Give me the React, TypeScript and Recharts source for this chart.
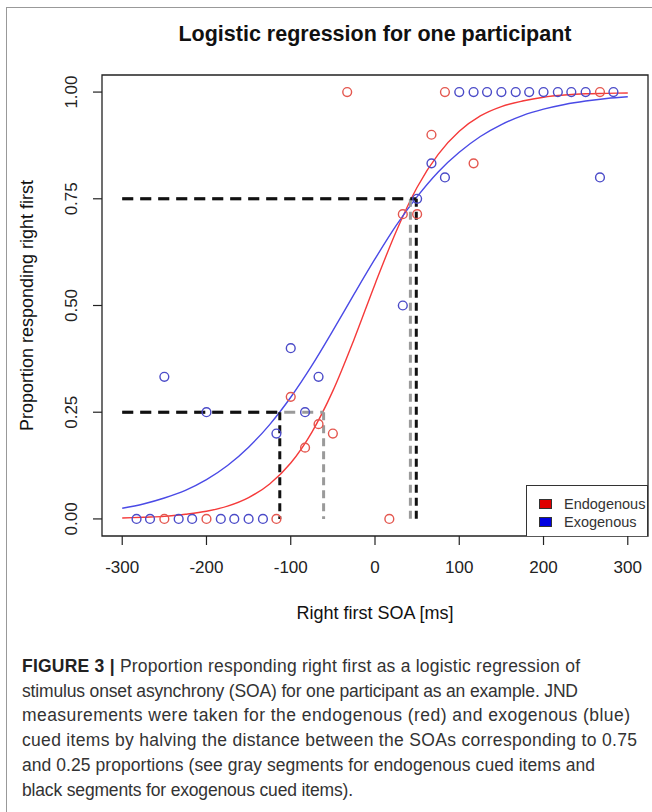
import React from 'react';
import {
  ComposedChart,
  XAxis,
  YAxis,
  Line,
  Scatter,
  ReferenceLine,
  ReferenceArea,
  Legend,
} from 'recharts';

const FONT = '"Liberation Sans", Arial, Helvetica, sans-serif';

// ---- Data ----
const xTicks = [-300, -200, -100, 0, 100, 200, 300];
const yTicks = [0, 0.25, 0.5, 0.75, 1];
const yTickLabels = ['0.00', '0.25', '0.50', '0.75', '1.00'];

// Observed proportions (Endogenous = red)
const endoSoa = [-250, -200, -117, -100, -83, -67, -50, -33, 17, 33, 50, 67, 83, 117, 267];
const endoProp = [0, 0, 0, 0.286, 0.167, 0.222, 0.2, 1, 0, 0.714, 0.714, 0.9, 1, 0.833, 1];

// Observed proportions (Exogenous = blue)
const exoSoa = [
  -283, -267, -250, -233, -217, -200, -183, -167, -150, -133, -117, -100, -83, -67,
  33, 50, 67, 83, 100, 117, 133, 150, 167, 183, 200, 217, 233, 250, 267, 283,
];
const exoProp = [
  0, 0, 0.333, 0, 0, 0.25, 0, 0, 0, 0, 0.2, 0.4, 0.25, 0.333,
  0.5, 0.75, 0.833, 0.8, 1, 1, 1, 1, 1, 1, 1, 1, 1, 1, 0.8, 1,
];

// Fitted logistic curves at these SOAs
const curveSoa = [
  -300, -275, -250, -225, -200, -175, -150, -125, -100, -75, -50, -25, 0,
  25, 50, 75, 100, 125, 150, 175, 200, 225, 250, 275, 300,
];
const endoFit = [
  0.002, 0.004, 0.006, 0.011, 0.018, 0.03, 0.05, 0.082, 0.131, 0.203, 0.3, 0.42, 0.55,
  0.673, 0.777, 0.854, 0.908, 0.944, 0.966, 0.979, 0.988, 0.993, 0.996, 0.997, 0.998,
];
const exoFit = [
  0.025, 0.035, 0.049, 0.067, 0.092, 0.125, 0.168, 0.221, 0.285, 0.359, 0.441, 0.526, 0.609,
  0.687, 0.755, 0.813, 0.859, 0.896, 0.924, 0.945, 0.96, 0.971, 0.979, 0.985, 0.989,
];

// JND reference SOAs at 0.25 and 0.75
const jndLevels = [0.25, 0.75];
const endoJnd = [-61, 42]; // gray
const exoJnd = [-113, 49]; // black
const jndStartSoa = -300;

const legendNames = ['Endogenous', 'Exogenous'];

// ---- Colors ----
const RED_PT = '#e4574f';
const BLUE_PT = '#4b4bc8';
const RED_LINE = '#f53a3a';
const BLUE_LINE = '#4a4ae6';
const GRAY_DASH = '#9a9a9a';
const BLACK_DASH = '#111111';

const endoPoints = endoSoa.map((x, i) => ({ x, y: endoProp[i] }));
const exoPoints = exoSoa.map((x, i) => ({ x, y: exoProp[i] }));
const endoCurve = curveSoa.map((x, i) => ({ x, y: endoFit[i] }));
const exoCurve = curveSoa.map((x, i) => ({ x, y: exoFit[i] }));

const XTick = (props: any) => {
  const { x, y, payload } = props;
  return (
    <text x={x} y={y} dy={12} textAnchor="middle" fontSize={17} fill="#222" fontFamily={FONT}>
      {payload.value}
    </text>
  );
};

const YTick = (props: any) => {
  const { x, y, payload } = props;
  const idx = yTicks.indexOf(payload.value);
  const label = idx >= 0 ? yTickLabels[idx] : String(payload.value);
  return (
    <text
      x={x}
      y={y}
      transform={`rotate(-90, ${x}, ${y})`}
      textAnchor="middle"
      fontSize={17}
      fill="#222"
      fontFamily={FONT}
    >
      {label}
    </text>
  );
};

const ring = (color: string) => (props: any) => {
  const { cx, cy } = props;
  if (cx == null || cy == null) return <g />;
  return <circle cx={cx} cy={cy} r={4.4} fill="none" stroke={color} strokeWidth={1.4} />;
};

const LegendBox = () => (
  <div
    style={{
      width: 122,
      height: 51,
      boxSizing: 'border-box',
      border: '1px solid #333',
      borderBottom: 'none',
      background: '#fff',
      fontFamily: FONT,
      fontSize: 14.5,
      color: '#333',
      position: 'relative',
    }}
  >
    {legendNames.map((name, i) => (
      <div
        key={name}
        style={{ position: 'absolute', left: 12, top: 9 + i * 18, height: 18, display: 'flex', alignItems: 'center' }}
      >
        <span
          style={{
            display: 'inline-block',
            width: 11,
            height: 8,
            background: i === 0 ? '#e00000' : '#0000e0',
            border: '1px solid #333',
            marginRight: 12,
          }}
        />
        <span>{name}</span>
      </div>
    ))}
  </div>
);

const captionLines = [
  'stimulus onset asynchrony (SOA) for one participant as an example. JND',
  'measurements were taken for the endogenous (red) and exogenous (blue)',
  'cued items by halving the distance between the SOAs corresponding to 0.75',
  'and 0.25 proportions (see gray segments for endogenous cued items and',
  'black segments for exogenous cued items).',
];
const captionLineWidths = [556, 608, 615, 573, 331];

export default function App() {
  return (
    <div
      style={{
        position: 'absolute',
        left: 0,
        top: 0,
        width: 652,
        height: 812,
        background: '#fff',
        overflow: 'hidden',
        fontFamily: FONT,
      }}
    >
      {/* outer frame */}
      <div
        style={{
          position: 'absolute',
          left: 6,
          top: 7,
          width: 700,
          height: 900,
          borderLeft: '1.5px solid #999',
          borderTop: '1.5px solid #999',
        }}
      />
      <div style={{ position: 'absolute', left: 0, top: 0 }}>
        <ComposedChart
          width={652}
          height={640}
          margin={{ top: 75, right: 4, left: 40, bottom: 54 }}
        >
          <XAxis
            type="number"
            dataKey="x"
            domain={[-324, 324]}
            allowDataOverflow
            ticks={xTicks}
            interval={0}
            height={50}
            axisLine={false}
            tickSize={9}
            tickMargin={16}
            tickLine={{ stroke: '#222', strokeWidth: 1.2 }}
            tick={<XTick />}
          />
          <YAxis
            type="number"
            dataKey="y"
            domain={[-0.04, 1.04]}
            allowDataOverflow
            ticks={yTicks}
            interval={0}
            width={62}
            axisLine={false}
            tickSize={9}
            tickMargin={16}
            tickLine={{ stroke: '#222', strokeWidth: 1.2 }}
            tick={<YTick />}
          />
          <ReferenceArea
            x1={-324}
            x2={324}
            y1={-0.04}
            y2={1.04}
            fill="none"
            stroke="#222"
            strokeWidth={1.3}
            fillOpacity={0}
            ifOverflow="visible"
          />
          <Scatter data={endoPoints} dataKey="y" shape={ring(RED_PT)} isAnimationActive={false} />
          <Scatter data={exoPoints} dataKey="y" shape={ring(BLUE_PT)} isAnimationActive={false} />
          <Line
            data={endoCurve}
            dataKey="y"
            type="monotone"
            dot={false}
            activeDot={false}
            stroke={RED_LINE}
            strokeWidth={1.4}
            isAnimationActive={false}
          />
          <Line
            data={exoCurve}
            dataKey="y"
            type="monotone"
            dot={false}
            activeDot={false}
            stroke={BLUE_LINE}
            strokeWidth={1.4}
            isAnimationActive={false}
          />
          {/* gray (endogenous) JND segments */}
          {jndLevels.map((lv, i) => (
            <ReferenceLine
              key={'gh' + i}
              segment={[{ x: jndStartSoa, y: lv }, { x: endoJnd[i], y: lv }]}
              stroke={GRAY_DASH}
              strokeWidth={3}
              strokeDasharray="11 7"
              ifOverflow="visible"
            />
          ))}
          {jndLevels.map((lv, i) => (
            <ReferenceLine
              key={'gv' + i}
              segment={[{ x: endoJnd[i], y: lv }, { x: endoJnd[i], y: 0 }]}
              stroke={GRAY_DASH}
              strokeWidth={3}
              strokeDasharray="8 5"
              ifOverflow="visible"
            />
          ))}
          {/* black (exogenous) JND segments */}
          {jndLevels.map((lv, i) => (
            <ReferenceLine
              key={'bh' + i}
              segment={[{ x: jndStartSoa, y: lv }, { x: exoJnd[i], y: lv }]}
              stroke={BLACK_DASH}
              strokeWidth={3}
              strokeDasharray="11 7"
              ifOverflow="visible"
            />
          ))}
          {jndLevels.map((lv, i) => (
            <ReferenceLine
              key={'bv' + i}
              segment={[{ x: exoJnd[i], y: lv }, { x: exoJnd[i], y: 0 }]}
              stroke={BLACK_DASH}
              strokeWidth={3}
              strokeDasharray="8 5"
              ifOverflow="visible"
            />
          ))}
          <Legend
            layout="vertical"
            align="center"
            verticalAlign="middle"
            content={() => <LegendBox />}
            wrapperStyle={{ left: 526, top: 485, width: 122, height: 51 }}
          />
        </ComposedChart>
      </div>
      {/* text overlay */}
      <svg
        width={652}
        height={812}
        style={{ position: 'absolute', left: 0, top: 0, pointerEvents: 'none' }}
        fontFamily={FONT}
      >
        <text x={375} y={40.5} textAnchor="middle" fontSize={21.5} fontWeight="bold" fill="#111">
          Logistic regression for one participant
        </text>
        <text x={375} y={618.5} textAnchor="middle" fontSize={18} fill="#111">
          Right first SOA [ms]
        </text>
        <text
          x={33}
          y={305.5}
          transform="rotate(-90, 33, 305.5)"
          textAnchor="middle"
          fontSize={18}
          fill="#111"
        >
          Proportion responding right first
        </text>
        <text x={22} y={672} fontSize={17.5} fill="#333" textLength={558} lengthAdjust="spacing">
          <tspan fontWeight="bold" fill="#222">FIGURE 3 |</tspan>
          <tspan> Proportion responding right first as a logistic regression of</tspan>
        </text>
        {captionLines.map((ln, i) => (
          <text
            key={i}
            x={22}
            y={672 + (i + 1) * 24.7}
            fontSize={17.5}
            fill="#333"
            textLength={captionLineWidths[i]}
            lengthAdjust="spacing"
          >
            {ln}
          </text>
        ))}
      </svg>
    </div>
  );
}
